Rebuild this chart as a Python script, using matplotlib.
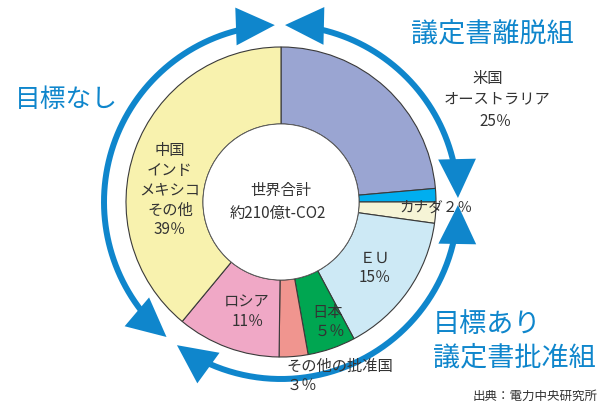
import matplotlib
matplotlib.use('Agg')
import numpy as np
import matplotlib.pyplot as plt
from matplotlib.patches import FancyArrowPatch, Circle
from matplotlib.path import Path
from matplotlib.transforms import Affine2D

plt.rcParams['font.family'] = ['Noto Sans CJK JP', 'DejaVu Sans']

# データ（世界のCO2排出量の内訳, %）
slices = ['米国', 'オーストラリア', 'カナダ', 'EU', '日本', 'その他の批准国', 'ロシア', '中国・インド・メキシコ・その他']
shares = [23.6, 1.4, 2.2, 15.0, 5.0, 3.0, 10.8, 39.0]
colors = ['#9aa5d2', '#00aeef', '#f6f4d6', '#cde9f5', '#00a651', '#f0958f', '#f0a8c6', '#f8f2ae']

blue = '#0f86cc'
txt = '#333333'

W, H = 605, 403
def fy(y):
    # 画像の上からのピクセル位置 -> データ座標
    return H - y

fig = plt.figure(figsize=(W / 100, H / 100), dpi=100)
ax = fig.add_axes([0, 0, 1, 1])

cx, cy = 281, fy(202)
R = 155

ax.pie(shares, colors=colors, startangle=90, counterclock=False,
       radius=R, center=(cx, cy),
       wedgeprops=dict(width=R - 78, edgecolor='#3a3a3a', linewidth=0.8))
ax.add_patch(Circle((cx, cy), 78, facecolor='white', edgecolor='#555555', lw=0.6, zorder=3))

# 周囲の矢印（時計回り、真上から角度）
def arc_arrow(a1, a2, r=177):
    # 軸の線
    a = np.radians(np.linspace(a1 + 6, a2 - 6, 200))
    ax.plot(cx + r * np.sin(a), cy + r * np.cos(a), color=blue, lw=4.3,
            solid_capstyle='butt', zorder=4)
    # 両端の矢じり
    t1, t2 = 90 - a2, 90 - a1
    p = Path.arc(t1, t2).transformed(Affine2D().scale(r).translate(cx, cy))
    arr = FancyArrowPatch(path=p, arrowstyle='<|-|>,head_length=1.4,head_width=0.68',
                          mutation_scale=20, facecolor=blue, edgecolor='none',
                          lw=0, zorder=4)
    ax.add_patch(arr)

arc_arrow(1.3, 88.7)
arc_arrow(91.0, 216)
arc_arrow(220.3, 358.0)

# ラベル
fs = 11
ax.text(cx, fy(190), '世界合計', ha='center', va='center', fontsize=fs, color=txt, zorder=5)
ax.text(cx - 3, fy(213), '約210億t-CO2', ha='center', va='center', fontsize=fs, color=txt, zorder=5)

for s, y in zip(['中国', 'インド', 'メキシコ', 'その他', '39％'], [150, 170, 190, 210, 230]):
    ax.text(170, fy(y), s, ha='center', va='center', fontsize=fs, color=txt, zorder=5)

ax.text(488, fy(78), '米国', ha='center', va='center', fontsize=fs, color=txt)
ax.text(497, fy(99), 'オーストラリア', ha='center', va='center', fontsize=fs, color=txt)
ax.text(495, fy(122), '25％', ha='center', va='center', fontsize=fs, color=txt)

ax.text(399, fy(208), 'カナダ２％', ha='left', va='center', fontsize=10.5, color=txt, zorder=5)
ax.text(375, fy(258), 'ＥＵ', ha='center', va='center', fontsize=fs, color=txt, zorder=5)
ax.text(375, fy(278), '15％', ha='center', va='center', fontsize=fs, color=txt, zorder=5)
ax.text(328, fy(312), '日本', ha='center', va='center', fontsize=fs, color=txt, zorder=5)
ax.text(330, fy(332), '５％', ha='center', va='center', fontsize=fs, color=txt, zorder=5)
ax.text(247, fy(302), 'ロシア', ha='center', va='center', fontsize=fs, color=txt, zorder=5)
ax.text(248, fy(322), '11％', ha='center', va='center', fontsize=fs, color=txt, zorder=5)
ax.text(340, fy(366), 'その他の批准国', ha='center', va='center', fontsize=fs, color=txt, zorder=5)
ax.text(302, fy(386), '３％', ha='center', va='center', fontsize=fs, color=txt, zorder=5)

# グループ名
ax.text(492, fy(34), '議定書離脱組', ha='center', va='center', fontsize=19.5, color=blue)
ax.text(15, fy(100), '目標なし', ha='left', va='center', fontsize=18.5, color=blue)
ax.text(433, fy(325), '目標あり', ha='left', va='center', fontsize=19.5, color=blue)
ax.text(433, fy(358), '議定書批准組', ha='left', va='center', fontsize=19.5, color=blue)

ax.text(598, fy(396), '出典：電力中央研究所', ha='right', va='center', fontsize=9, color=txt)

ax.set_xlim(0, W)
ax.set_ylim(0, H)
ax.set_aspect('equal')
ax.axis('off')

fig.savefig('out.png', dpi=100)
